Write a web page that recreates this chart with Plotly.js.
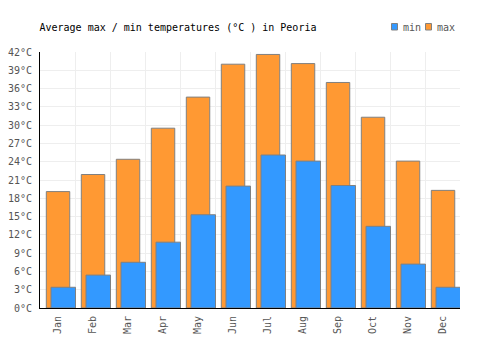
<!DOCTYPE html>
<html>
<head>
<meta charset="utf-8">
<script src="https://cdn.plot.ly/plotly-3.0.1.min.js"></script>
<style>html,body{margin:0;padding:0;background:#fff}#chart{width:500px;height:350px}</style>
</head>
<body>
<div id="chart"></div>
<script>
var months = ["Jan","Feb","Mar","Apr","May","Jun","Jul","Aug","Sep","Oct","Nov","Dec"];
var maxTemps = [19.1, 21.9, 24.4, 29.5, 34.6, 40.0, 41.6, 40.1, 37.0, 31.3, 24.1, 19.3];
var minTemps = [3.4, 5.4, 7.5, 10.8, 15.3, 20.0, 25.1, 24.1, 20.1, 13.4, 7.2, 3.4];
var yTicks = [0,3,6,9,12,15,18,21,24,27,30,33,36,39,42];
var yTickLabels = ["0°C","3°C","6°C","9°C","12°C","15°C","18°C","21°C","24°C","27°C","30°C","33°C","36°C","39°C","42°C"];

var font = "DejaVu Sans Mono, Liberation Mono, monospace";
var traces = [
  {type:"bar", name:"max", x:months, y:maxTemps, offset:-0.32, width:0.67,
   marker:{color:"#FF9933", line:{color:"#808080", width:1}}, hoverinfo:"y"},
  {type:"bar", name:"min", x:months, y:minTemps, offset:-0.186, width:0.7,
   marker:{color:"#3399FF", line:{color:"#808080", width:1}}, hoverinfo:"y"}
];
var layout = {
  width:500, height:350,
  margin:{l:40, r:40, t:52, b:42, pad:0},
  paper_bgcolor:"#fff", plot_bgcolor:"#fff",
  barmode:"overlay",
  showlegend:false,
  font:{family:font, size:10, color:"#555"},
  title:{text:"Average max / min temperatures (°C ) in Peoria", font:{family:font, size:10, color:"#000"},
         x:0.079, xref:"container", xanchor:"left", y:1-27/350, yref:"container", yanchor:"middle"},
  xaxis:{type:"category", tickangle:-90, tickson:"boundaries", showgrid:true, gridcolor:"#eeeeee", gridwidth:1,
         ticks:"", showline:true, linecolor:"#000", linewidth:1, mirror:false, range:[-0.5,11.5],
         ticklabelstandoff:3, automargin:false,
         tickfont:{family:font, size:10, color:"#555"}, fixedrange:true},
  yaxis:{range:[0,42], tickmode:"array", tickvals:yTicks, ticktext:yTickLabels, showgrid:true, gridcolor:"#eeeeee", gridwidth:1,
         showline:true, linecolor:"#000", linewidth:1, zeroline:false, ticks:"", ticklen:0, automargin:false,
         ticklabelstandoff:5,
         tickfont:{family:font, size:10, color:"#555"}, fixedrange:true},
  shapes:[
    {type:"rect", xref:"paper", yref:"paper", x0:(391.5-40)/420, x1:(397.5-40)/420, y0:(308-30)/256, y1:(308-23.5)/256,
     fillcolor:"#3399FF", line:{color:"#808080", width:1}},
    {type:"rect", xref:"paper", yref:"paper", x0:(425.5-40)/420, x1:(431.5-40)/420, y0:(308-30)/256, y1:(308-23.5)/256,
     fillcolor:"#FF9933", line:{color:"#808080", width:1}}
  ],
  annotations:[
    {text:"min", xref:"paper", yref:"paper", x:(400.5-40)/420, y:(308-27)/256, xanchor:"left", yanchor:"middle", showarrow:false,
     font:{family:font, size:10, color:"#555"}},
    {text:"max", xref:"paper", yref:"paper", x:(434.5-40)/420, y:(308-27)/256, xanchor:"left", yanchor:"middle", showarrow:false,
     font:{family:font, size:10, color:"#555"}}
  ]
};
Plotly.newPlot("chart", traces, layout, {displayModeBar:false, staticPlot:true});
</script>
</body>
</html>
